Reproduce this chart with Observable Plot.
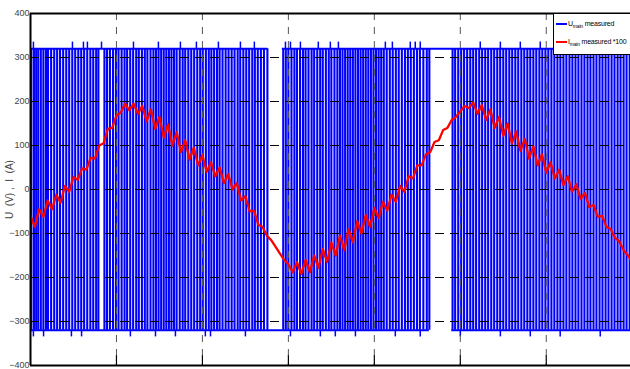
<!DOCTYPE html>
<html><head><meta charset="utf-8">
<script src="https://cdn.jsdelivr.net/npm/d3@7"></script>
<script src="https://cdn.jsdelivr.net/npm/@observablehq/plot@0.6"></script>
<style>
body{margin:0;background:#fff;overflow:hidden}
#wrap{position:relative;width:630px;height:369px;overflow:hidden}
.legend{position:absolute;left:553px;top:13px;width:82px;height:42px;border:1px solid #000;background:#fff;box-sizing:border-box;font:7px "Liberation Sans Narrow","Arial Narrow","Liberation Sans",Arial,sans-serif;letter-spacing:-0.2px;color:#000}
.row{position:absolute;left:2px;white-space:nowrap}
.sw{display:inline-block;width:11px;height:2px;vertical-align:middle;margin-right:1px}
sub{font-size:5px;vertical-align:-2px}
</style></head>
<body><div id="wrap"></div>
<script>
// ---- data (time in ms, values in V / A*100) ----
const sampleStep = 0.25;
const currentValues = [-60,-85,-45,-62,-25,-45,-12,-30,8,-5,28,22,48,45,72,70,100,105,138,140,168,175,195,180,195,172,190,155,182,138,165,118,148,100,130,85,112,68,95,55,78,40,62,30,50,15,35,0,15,-25,-15,-50,-48,-80,-85,-105,-115,-130,-145,-160,-170,-188,-165,-192,-160,-188,-150,-178,-135,-165,-120,-150,-105,-138,-90,-120,-72,-100,-58,-85,-42,-65,-28,-48,-12,-28,8,-5,30,25,55,55,80,85,108,112,135,140,158,165,178,190,185,198,172,192,158,182,140,165,122,150,105,132,88,115,70,98,55,80,38,62,25,45,10,30,-5,12,-22,-8,-40,-35,-62,-60,-85,-90,-110,-118,-138,-150,-165];

const pulseTimes = [0.05,0.2,0.33,0.45,0.6,0.75,0.9,1.02,1.2,1.38,1.55,1.72,1.9,2.08,2.25,2.43,2.6,2.78,2.95,3.12,3.3,3.48,3.65,3.82,3.95,
4.3,4.45,4.62,4.8,4.97,5.12,5.3,5.47,5.62,5.8,5.97,6.15,6.3,6.48,6.65,6.8,6.98,7.15,7.3,7.45,7.6,7.75,7.9,8.05,8.2,8.35,8.5,8.68,8.85,9.0,9.18,9.35,9.52,9.7,9.87,10.02,10.2,10.37,10.52,10.68,10.85,11.0,11.17,11.35,11.52,11.7,11.87,12.05,12.2,12.38,12.55,12.72,12.9,13.05,13.22,13.4,13.58,13.78,
14.7,14.85,15.0,15.18,15.35,15.5,15.68,15.85,16.0,16.17,16.35,16.5,16.68,16.85,17.0,17.18,17.35,17.5,17.68,17.85,18.0,18.15,18.3,18.45,18.6,18.75,18.9,19.05,19.2,19.35,19.5,19.65,19.8,19.95,20.1,20.25,20.4,20.55,20.72,20.9,21.07,21.25,21.42,21.6,21.78,21.95,22.12,22.3,22.48,22.65,22.85,23.05,23.2,
24.55,24.7,24.88,25.05,25.22,25.4,25.58,25.75,25.92,26.1,26.27,26.45,26.62,26.8,26.97,27.15,27.32,27.5,27.67,27.85,28.02,28.2,28.37,28.55,28.72,28.9,29.07,29.25,29.42,29.6,29.77,29.95,30.12,30.3,30.47,30.65,30.82,31.0,31.17,31.35,31.52,31.7,31.87,32.05,32.22,32.4,32.57,32.75,32.92,33.1,33.27,33.45,33.62,33.8,33.97,34.15,34.32,34.5,34.67,34.85];

const highSegments = [[0,13.8],[14.65,34.9]];
const lowSegments = [[0,23.2],[24.5,34.9]];
const highLevel = 320, lowLevel = -320;
const spikeTop = [0.17,2.44,3.08,3.31,4.13,5.99,7.44,8.72,9.65,10.93,12.21,13.02,14.83,15.12,15.7,16.74,17.44,17.91,20.64,21.05,22.09,22.38,22.67,26.16,27.33,28.49,29.65,31.4,33.14,34.3];
const spikeBottom = [0.17,0.76,2.38,2.97,5.81,7.27,8.43,10.17,10.47,12.5,15.12,16.86,17.73,18.9,21.22,22.67,25.0,27.33,29.07,30.81,33.14];
const spikeLevel = 335;

const xTicks = [0,5,10,15,20,25,30];
const yTicks = [-400,-300,-200,-100,0,100,200,300,400];
const yGrid = [-300,-200,-100,0,100,200,300];
const xGrid = [5,10,15,20,25,30];

const current = currentValues.map((v,i)=>({t:i*sampleStep, v}));

const blue = "#0000ff";
const chart = Plot.plot({
  width:630, height:369,
  marginLeft:30, marginRight:0, marginTop:13, marginBottom:4,
  style:{fontFamily:"'Liberation Sans', Arial, sans-serif", overflow:"visible", background:"#fff"},
  x:{domain:[0,34.9]},
  y:{domain:[-400,400]},
  marks:[
    Plot.ruleX(pulseTimes,{x:d=>d, y1:lowLevel, y2:highLevel, stroke:blue, strokeWidth:2.1}),
    Plot.ruleY(highSegments,{y:highLevel, x1:d=>d[0], x2:d=>d[1], stroke:blue, strokeWidth:2}),
    Plot.ruleY(lowSegments,{y:lowLevel, x1:d=>d[0], x2:d=>d[1], stroke:blue, strokeWidth:2}),
    Plot.ruleX(spikeTop,{x:d=>d, y1:highLevel, y2:spikeLevel, stroke:blue, strokeWidth:1.5}),
    Plot.ruleX(spikeBottom,{x:d=>d, y1:lowLevel, y2:-spikeLevel, stroke:blue, strokeWidth:1.5}),
    Plot.ruleY(yGrid,{y:d=>d, stroke:"#000", strokeWidth:1, strokeDasharray:"9,6"}),
    Plot.ruleX(xGrid,{x:d=>d, stroke:"#555", strokeWidth:1, strokeDasharray:"7,7"}),
    Plot.ruleX(xGrid,{x:d=>d, y1:-400, y2:-378, stroke:"#000", strokeWidth:1.2}),
    Plot.ruleY(yTicks,{y:d=>d, x1:0, x2:0.3, stroke:"#000", strokeWidth:1}),
    Plot.line(current,{x:"t", y:"v", stroke:"#ff0000", strokeWidth:2.3, clip:true}),
    Plot.ruleY([400,-400],{y:d=>d, stroke:"#000", strokeWidth:2}),
    Plot.ruleX([0],{x:d=>d, stroke:"#000", strokeWidth:2}),
    Plot.axisY(yTicks,{anchor:"left", tickSize:0, tickPadding:1, fontSize:9, fill:"#444", label:null}),
    Plot.axisY([],{anchor:"left", tickSize:0, fontSize:10, fill:"#444",
      label:"U  (V) ,  I  (A)", labelAnchor:"center", labelArrow:"none", labelOffset:25}),
    Plot.axisX(xTicks,{anchor:"bottom", tickSize:0, tickPadding:4, fontSize:9, fill:"#444",
      tickFormat:d=>String(d/1000), label:null})
  ]
});
document.getElementById("wrap").appendChild(chart);
const lg = document.createElement("div");
lg.className = "legend";
lg.innerHTML = '<div class="row" style="top:6px"><span class="sw" style="background:#0000ff"></span>U<sub>main</sub> measured</div>'+
  '<div class="row" style="top:24px"><span class="sw" style="background:#ff0000"></span>I<sub>main</sub> measured *100</div>';
document.getElementById("wrap").appendChild(lg);
</script></body></html>
